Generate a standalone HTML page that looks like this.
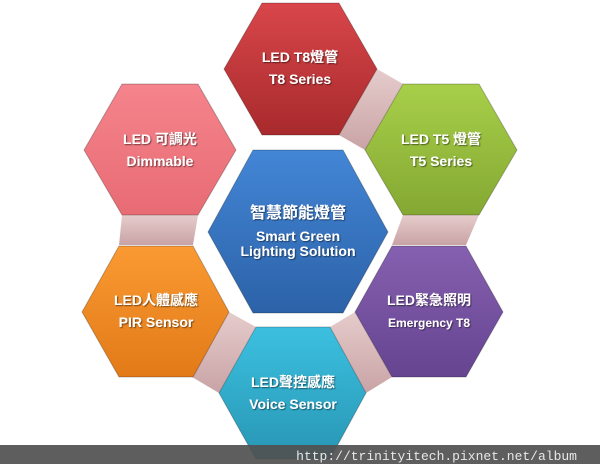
<!DOCTYPE html>
<html><head><meta charset="utf-8"><style>
html,body{margin:0;padding:0;background:#fff;width:600px;height:464px;overflow:hidden}
svg text{font-family:"Liberation Sans","Noto Sans CJK TC",sans-serif;font-weight:bold;fill:#fff;text-anchor:middle}
</style></head><body>
<svg width="600" height="464" viewBox="0 0 600 464" xmlns="http://www.w3.org/2000/svg">
<defs>
<linearGradient id="cn" x1="0" y1="0" x2="0" y2="1"><stop offset="0" stop-color="#e6cccc"/><stop offset="1" stop-color="#c9a3a5"/></linearGradient>
<linearGradient id="r" x1="0" y1="0" x2="0" y2="1"><stop offset="0" stop-color="#d8464a"/><stop offset="1" stop-color="#a82a2c"/></linearGradient>
<linearGradient id="g" x1="0" y1="0" x2="0" y2="1"><stop offset="0" stop-color="#a8cf4a"/><stop offset="1" stop-color="#84a832"/></linearGradient>
<linearGradient id="b" x1="0" y1="0" x2="0" y2="1"><stop offset="0" stop-color="#4386d6"/><stop offset="1" stop-color="#2c62a8"/></linearGradient>
<linearGradient id="p" x1="0" y1="0" x2="0" y2="1"><stop offset="0" stop-color="#f5848c"/><stop offset="1" stop-color="#e86b74"/></linearGradient>
<linearGradient id="o" x1="0" y1="0" x2="0" y2="1"><stop offset="0" stop-color="#fa9a32"/><stop offset="1" stop-color="#e27a18"/></linearGradient>
<linearGradient id="v" x1="0" y1="0" x2="0" y2="1"><stop offset="0" stop-color="#8660b0"/><stop offset="1" stop-color="#654490"/></linearGradient>
<linearGradient id="c" x1="0" y1="0" x2="0" y2="1"><stop offset="0" stop-color="#3cc0e0"/><stop offset="1" stop-color="#2896b4"/></linearGradient>
<filter id="sh"><feDropShadow dx="1" dy="1" stdDeviation="0.6" flood-color="#000" flood-opacity="0.5"/></filter>
</defs>
<g fill="url(#cn)">
<polygon points="377,69 339,135 365,150 403,84"/>
<polygon points="403,215 479,215 466,245 392,245"/>
<polygon points="122,215 198,215 193,245 119,245"/>
<polygon points="229,312 192,377 219,393 256,327"/>
<polygon points="330,327 366,393 392,377 355,312"/>
</g>
<g stroke-width="1" stroke="#000" stroke-opacity="0.25">
<polygon fill="url(#r)" points="224,69 262,3 339,3 377,69 339,135 262,135"/>
<polygon fill="url(#g)" points="365,150 403,84 479,84 517,150 479,215 403,215"/>
<polygon fill="url(#p)" points="84,150 122,84 198,84 236,150 198,215 122,215"/>
<polygon fill="url(#b)" points="208,232 253,150 343,150 388,232 343,313 253,313"/>
<polygon fill="url(#o)" points="82,312 119,246 193,246 229,312 193,377 119,377"/>
<polygon fill="url(#v)" points="355,312 392,246 466,246 503,312 466,377 392,377"/>
<polygon fill="url(#c)" points="219,393 256,327 330,327 366,393 330,459 256,459"/>
</g>
<g filter="url(#sh)" font-size="14">
<text x="300" y="62">LED T8燈管</text><text x="300" y="84">T8 Series</text>
<text x="441" y="144">LED T5 燈管</text><text x="441" y="166">T5 Series</text>
<text x="160" y="144">LED 可調光</text><text x="160" y="166">Dimmable</text>
<text x="298" y="218" font-size="16">智慧節能燈管</text>
<text x="298" y="241">Smart Green</text><text x="298" y="256">Lighting Solution</text>
<text x="156" y="305">LED人體感應</text><text x="156" y="327">PIR Sensor</text>
<text x="429" y="305">LED緊急照明</text><text x="429" y="327" font-size="12">Emergency  T8</text>
<text x="293" y="387">LED聲控感應</text><text x="293" y="409">Voice Sensor</text>
</g>
<rect x="0" y="445" width="600" height="19" fill="#505050" fill-opacity="0.92"/>
<text x="577" y="460" style="font-family:'Liberation Mono',monospace;font-weight:normal;fill:#e8e8e8;text-anchor:end" font-size="13">http://trinityitech.pixnet.net/album</text>
</svg>
</body></html>
